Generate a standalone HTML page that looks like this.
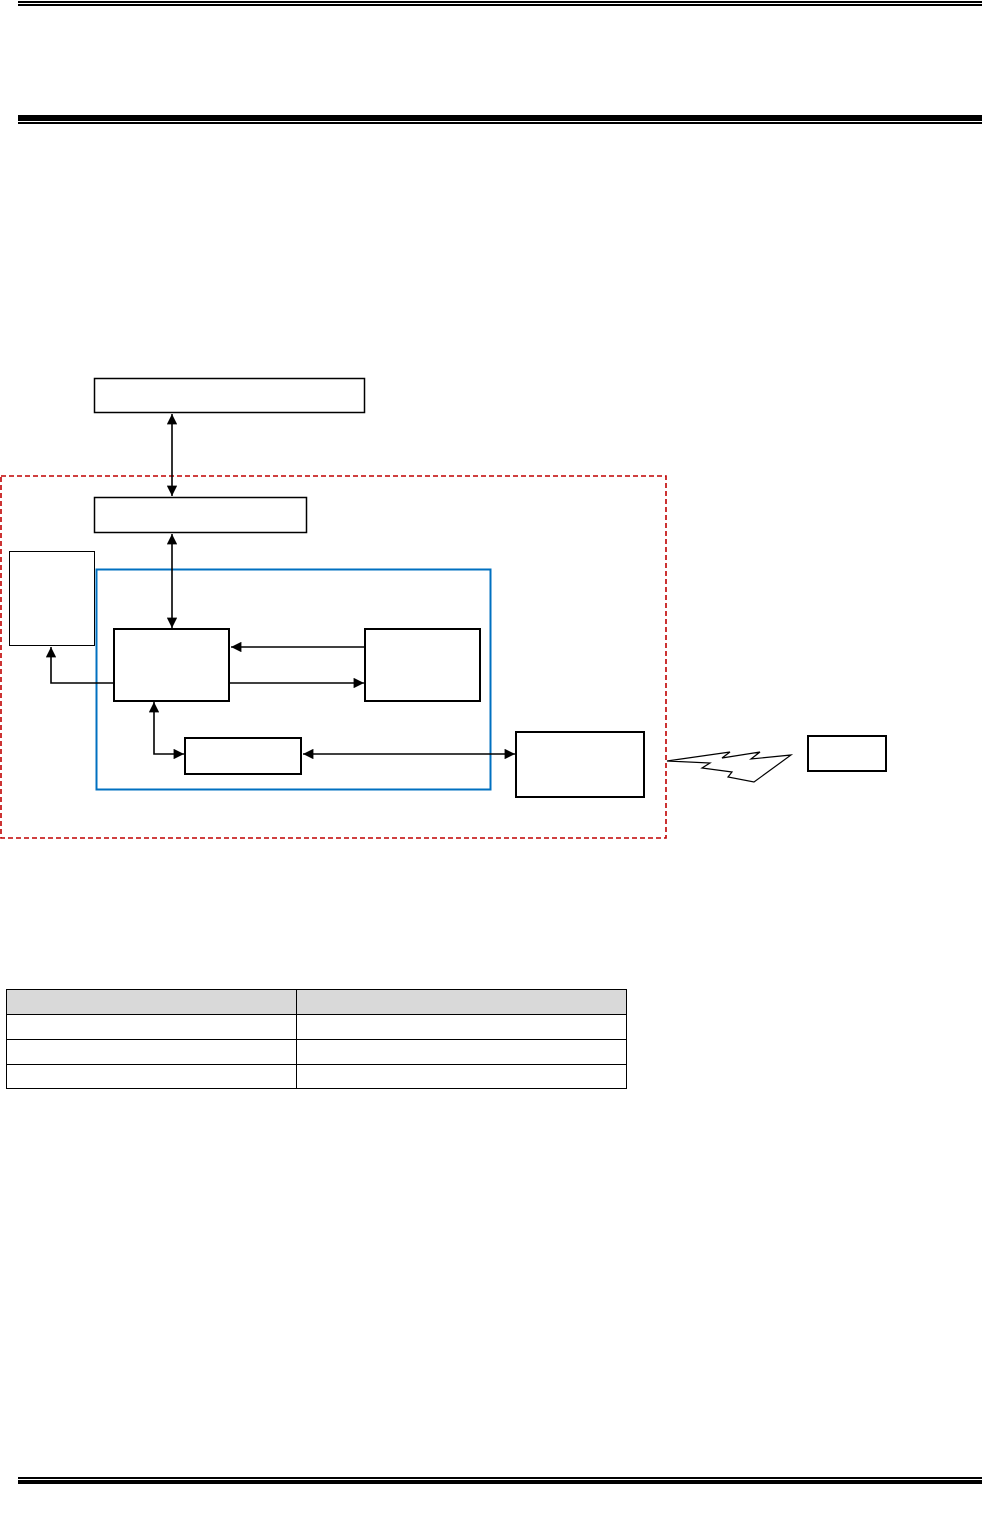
<!DOCTYPE html>
<html><head><meta charset="utf-8"><style>html,body{margin:0;padding:0;background:#fff}svg{display:block}</style></head>
<body>
<svg width="983" height="1530" viewBox="0 0 983 1530" xmlns="http://www.w3.org/2000/svg">
<defs>
<marker id="a" viewBox="0 0 10 10" refX="10" refY="5" markerWidth="7.5" markerHeight="6.5" orient="auto-start-reverse"><path d="M0,0L10,5L0,10z" fill="#000"/></marker>
</defs>
<rect x="18" y="1" width="964" height="2" fill="#000"/>
<rect x="18" y="4" width="964" height="2" fill="#000"/>
<rect x="18" y="115" width="964" height="6" fill="#000"/>
<rect x="18" y="122" width="964" height="2" fill="#000"/>
<rect x="18" y="1477" width="964" height="2" fill="#000"/>
<rect x="18" y="1480" width="964" height="4" fill="#000"/>

<rect x="1" y="476" width="665" height="362" fill="none" stroke="#c00000" stroke-width="1.6" stroke-dasharray="5,3"/>
<rect x="96.5" y="569.5" width="394" height="220" fill="none" stroke="#0070c0" stroke-width="2"/>

<g fill="#fff" stroke="#000">
<rect x="94.5" y="378.5" width="270" height="34" stroke-width="1.5"/>
<rect x="94.5" y="497.5" width="212" height="35" stroke-width="1.5"/>
<rect x="9.5" y="551.5" width="85" height="94" stroke-width="1"/>
<rect x="114" y="629" width="115" height="72" stroke-width="2"/>
<rect x="365" y="629" width="115" height="72" stroke-width="2"/>
<rect x="185" y="738" width="116" height="36" stroke-width="2"/>
<rect x="516" y="732" width="128" height="65" stroke-width="2"/>
<rect x="808" y="736" width="78" height="35" stroke-width="2"/>
</g>

<g stroke="#000" stroke-width="1.6" fill="none">
<line x1="172" y1="414" x2="172" y2="496" marker-start="url(#a)" marker-end="url(#a)"/>
<line x1="172" y1="534" x2="172" y2="628" marker-start="url(#a)" marker-end="url(#a)"/>
<line x1="364" y1="647" x2="231" y2="647" marker-end="url(#a)"/>
<line x1="230" y1="683" x2="364" y2="683" marker-end="url(#a)"/>
<polyline points="114,683 51,683 51,647" marker-end="url(#a)"/>
<polyline points="154,702 154,754 184,754" marker-start="url(#a)" marker-end="url(#a)"/>
<line x1="303" y1="754" x2="515" y2="754" marker-start="url(#a)" marker-end="url(#a)"/>
<polygon points="667,761 730,752 722,758 760,752 751,759 791,755 754,782 728,777 732,772 702,768 710,763" stroke-width="1.2"/>
</g>

<rect x="6.5" y="989.5" width="620" height="25" fill="#d9d9d9"/>
<g stroke="#000" stroke-width="1" fill="none">
<rect x="6.5" y="989.5" width="620" height="99"/>
<line x1="6.5" y1="1014.5" x2="626.5" y2="1014.5"/>
<line x1="6.5" y1="1039.5" x2="626.5" y2="1039.5"/>
<line x1="6.5" y1="1064.5" x2="626.5" y2="1064.5"/>
<line x1="296.5" y1="989.5" x2="296.5" y2="1088.5"/>
</g>
</svg>
</body></html>
